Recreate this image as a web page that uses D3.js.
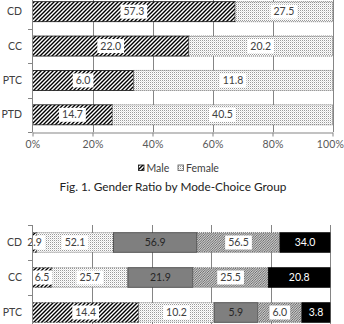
<!DOCTYPE html>
<html>
<head>
<meta charset="utf-8">
<script src="https://cdn.jsdelivr.net/npm/d3@7"></script>
<style>
  html, body { margin: 0; padding: 0; background: #fff; overflow: hidden; }
  svg { display: block; }
  text { font-family: Lato, "Open Sans", sans-serif; }
</style>
</head>
<body>
<svg id="chart" width="344" height="324"></svg>
<script>
// ---- Data: Fig. 1 (gender ratio) ----
const genderGroups = ["CD", "CC", "PTC", "PTD"];
const maleValues = [57.3, 22.0, 6.0, 14.7];
const femaleValues = [27.5, 20.2, 11.8, 40.5];
const genderSeries = ["Male", "Female"];
const percentTicks = [0, 0.2, 0.4, 0.6, 0.8, 1.0];
const fig1Title = "Fig. 1. Gender Ratio by Mode-Choice Group";

// ---- Data: second figure (five-part breakdown) ----
const groups2 = ["CD", "CC", "PTC"];
const partA = [2.9, 6.5, 14.4];
const partB = [52.1, 25.7, 10.2];
const partC = [56.9, 21.9, 5.9];
const partD = [56.5, 25.5, 6.0];
const partE = [34.0, 20.8, 3.8];
const parts2 = ["A", "B", "C", "D", "E"];

const svg = d3.select("#chart");
const defs = svg.append("defs");

// Patterns
function hatchPattern(id, size, strokeW, color) {
  const p = defs.append("pattern").attr("id", id).attr("patternUnits", "userSpaceOnUse")
    .attr("width", size).attr("height", size);
  p.append("rect").attr("width", size).attr("height", size).attr("fill", "#fff");
  p.append("path")
    .attr("d", `M0,${size} L${size},0 M${-size/2},${size/2} L${size/2},${-size/2} M${size/2},${size*1.5} L${size*1.5},${size/2}`)
    .attr("stroke", color).attr("stroke-width", strokeW);
}
hatchPattern("wideHatch", 4, 1.4, "#000");
hatchPattern("fineHatch", 2.4, 0.9, "#4a4a4a");
(function () {
  const p = defs.append("pattern").attr("id", "dots").attr("patternUnits", "userSpaceOnUse")
    .attr("width", 2).attr("height", 2);
  p.append("rect").attr("width", 2).attr("height", 2).attr("fill", "#fff");
  p.append("rect").attr("width", 1).attr("height", 1).attr("fill", "#9a9a9a");
  p.append("rect").attr("x", 1).attr("y", 1).attr("width", 1).attr("height", 1).attr("fill", "#e2e2e2");
})();

const gridColor = "#858585";
const labelColor = "#404040";

// ---------- Figure 1 ----------
const x1 = d3.scaleLinear().domain([0, 1]).range([32.5, 332.5]);
const y1 = d3.scaleBand().domain(genderGroups).range([-5.5, 132])
  .paddingInner(0.418).paddingOuter(0.209);

const g1 = svg.append("g");
// gridlines
g1.append("g").selectAll("line").data(percentTicks.slice(1)).join("line")
  .attr("x1", d => Math.round(x1(d)) + 0.5).attr("x2", d => Math.round(x1(d)) + 0.5)
  .attr("y1", y1.range()[0]).attr("y2", y1.range()[1])
  .attr("stroke", gridColor).attr("stroke-width", 1);

const genderRows = genderGroups.map((g, i) => ({ group: g, Male: maleValues[i], Female: femaleValues[i] }));
const stack1 = d3.stack().keys(genderSeries).offset(d3.stackOffsetExpand)(genderRows);
const fill1 = { Male: "url(#wideHatch)", Female: "url(#dots)" };
const stroke1 = { Male: "#111", Female: "#555" };

stack1.forEach(layer => {
  g1.append("g").selectAll("rect").data(layer).join("rect")
    .attr("x", d => x1(d[0])).attr("width", d => x1(d[1]) - x1(d[0]))
    .attr("y", d => y1(d.data.group)).attr("height", y1.bandwidth())
    .attr("fill", fill1[layer.key]).attr("stroke", stroke1[layer.key])
    .attr("stroke-width", 0.8)
    .attr("stroke-dasharray", layer.key === "Female" ? "1,1" : null);
});

function addLabel(g, cx, cy, txt, boxed, color) {
  const t = g.append("text").attr("x", cx).attr("y", cy).attr("dy", "0.35em")
    .attr("text-anchor", "middle").attr("font-size", 10.5).attr("fill", color).text(txt);
  if (boxed) {
    const bb = t.node().getBBox();
    g.insert("rect", () => t.node())
      .attr("x", bb.x - 3).attr("y", cy - 7).attr("width", bb.width + 6).attr("height", 14)
      .attr("fill", "#fff");
  }
}

const lab1 = g1.append("g");
stack1.forEach(layer => {
  layer.forEach(d => {
    addLabel(lab1, (x1(d[0]) + x1(d[1])) / 2, y1(d.data.group) + y1.bandwidth() / 2,
      d3.format(".1f")(d.data[layer.key]), true, labelColor);
  });
});

// left axis with separator ticks
const sep1 = genderGroups.map(g => y1(g) - y1.step() * y1.paddingInner() / 2).concat([y1.range()[1]]);
g1.append("line").attr("x1", 32.5).attr("x2", 32.5).attr("y1", y1.range()[0]).attr("y2", y1.range()[1])
  .attr("stroke", gridColor);
g1.append("g").selectAll("line").data(sep1).join("line")
  .attr("x1", 28).attr("x2", 32.5).attr("y1", d => Math.round(d) + 0.5).attr("y2", d => Math.round(d) + 0.5)
  .attr("stroke", gridColor);
g1.append("g").selectAll("text").data(genderGroups).join("text")
  .attr("x", 22).attr("y", d => y1(d) + y1.bandwidth() / 2).attr("dy", "0.35em")
  .attr("text-anchor", "end").attr("font-size", 10.5).attr("fill", labelColor).text(d => d);

// bottom axis
const xAxis1 = d3.axisBottom(x1).tickValues(percentTicks).tickFormat(d3.format(".0%")).tickSize(4).tickSizeOuter(0);
const ax1 = g1.append("g").attr("transform", "translate(0,132.5)").call(xAxis1);
ax1.select(".domain").attr("stroke", gridColor);
ax1.selectAll(".tick line").attr("stroke", gridColor);
ax1.selectAll(".tick text").attr("font-family", "Lato, sans-serif").attr("font-size", 10.5)
  .attr("fill", "#595959").attr("letter-spacing", "0.2px").attr("y", 8)
  .attr("dx", d => d === 1 ? -2.5 : 0);

// legend
const leg = svg.append("g");
const legItems = [{ k: "Male", x: 138.5 }, { k: "Female", x: 178 }];
legItems.forEach(it => {
  leg.append("rect").attr("x", it.x).attr("y", 165).attr("width", 5.5).attr("height", 5.5)
    .attr("fill", fill1[it.k]).attr("stroke", stroke1[it.k]).attr("stroke-width", 0.8);
  leg.append("text").attr("x", it.x + 8).attr("y", 168).attr("dy", "0.35em")
    .attr("font-size", 10.5).attr("fill", labelColor).text(it.k);
});

// title
const title = svg.append("text").attr("x", 173).attr("y", 191).attr("text-anchor", "middle")
  .attr("font-family", "'Open Sans', sans-serif").attr("font-size", 12).attr("fill", "#222").text(fig1Title);
const tw = title.node().getComputedTextLength();
if (tw > 0) title.attr("font-size", 12 * 227 / tw);

// ---------- Figure 2 ----------
const x2 = d3.scaleLinear().domain([0, 1]).range([32.5, 330]);
const y2 = d3.scaleBand().domain(groups2).range([225, 330])
  .paddingInner(0.44).paddingOuter(0.22);
const g2 = svg.append("g");

g2.append("g").selectAll("line").data(percentTicks.slice(1)).join("line")
  .attr("x1", d => Math.round(x2(d)) + 0.5).attr("x2", d => Math.round(x2(d)) + 0.5)
  .attr("y1", 225).attr("y2", 340).attr("stroke", gridColor);

const rows2 = groups2.map((g, i) => ({ group: g, A: partA[i], B: partB[i], C: partC[i], D: partD[i], E: partE[i] }));
const stack2 = d3.stack().keys(parts2).offset(d3.stackOffsetExpand)(rows2);
const fill2 = { A: "url(#wideHatch)", B: "url(#dots)", C: "#7f7f7f", D: "url(#fineHatch)", E: "#000" };
const stroke2 = { A: "#222", B: "#666", C: "#404040", D: "#555", E: "#000" };
const dash2 = { A: "2,1", B: "1,1", C: null, D: "1,1", E: null };

stack2.forEach(layer => {
  g2.append("g").selectAll("rect").data(layer).join("rect")
    .attr("x", d => x2(d[0])).attr("width", d => x2(d[1]) - x2(d[0]))
    .attr("y", d => y2(d.data.group)).attr("height", y2.bandwidth())
    .attr("fill", fill2[layer.key]).attr("stroke", stroke2[layer.key]).attr("stroke-width", 0.8)
    .attr("stroke-dasharray", dash2[layer.key]);
});

const lab2 = g2.append("g");
stack2.forEach(layer => {
  const boxed = layer.key === "A" || layer.key === "B" || layer.key === "D";
  const col = layer.key === "E" ? "#fff" : (layer.key === "C" ? "#262626" : labelColor);
  layer.forEach(d => {
    addLabel(lab2, (x2(d[0]) + x2(d[1])) / 2, y2(d.data.group) + y2.bandwidth() / 2,
      d3.format(".1f")(d.data[layer.key]), boxed, col);
  });
});

const sep2 = groups2.map(g => y2(g) - y2.step() * y2.paddingInner() / 2);
g2.append("line").attr("x1", 32.5).attr("x2", 32.5).attr("y1", 225).attr("y2", 340).attr("stroke", gridColor);
g2.append("g").selectAll("line").data(sep2).join("line")
  .attr("x1", 28).attr("x2", 32.5).attr("y1", d => Math.round(d) + 0.5).attr("y2", d => Math.round(d) + 0.5)
  .attr("stroke", gridColor);
g2.append("g").selectAll("text").data(groups2).join("text")
  .attr("x", 22).attr("y", d => y2(d) + y2.bandwidth() / 2).attr("dy", "0.35em")
  .attr("text-anchor", "end").attr("font-size", 10.5).attr("fill", labelColor).text(d => d);
</script>
</body>
</html>
